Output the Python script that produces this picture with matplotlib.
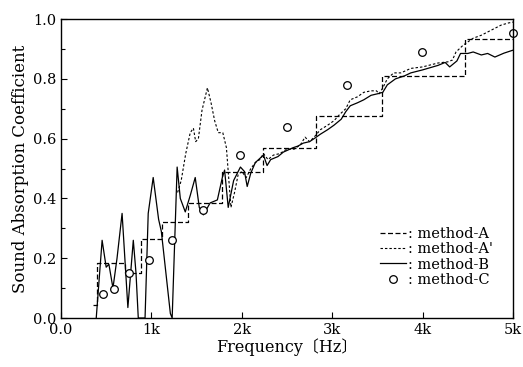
import matplotlib.pyplot as plt
import matplotlib.ticker as mticker

# method-A: band-wise step values (band edges in Hz)
a_edges = [350, 400, 710, 890, 1120, 1410, 1780, 2240, 2820, 3550, 4470, 5000]
a_vals = [0.045, 0.185, 0.15, 0.265, 0.32, 0.385, 0.49, 0.57, 0.675, 0.81, 0.935]

# method-A' (short dashes)
ap_freq = [1290, 1330, 1380, 1430, 1465, 1490, 1520, 1560, 1620, 1660, 1700, 1740,
           1790, 1830, 1860, 1880, 1920, 1960, 2000, 2050, 2100, 2150, 2200, 2240,
           2290, 2350, 2420, 2500, 2580, 2650, 2700, 2750, 2800, 2870, 2950, 3020,
           3080, 3150, 3200, 3280, 3350, 3430, 3490, 3520, 3560, 3610, 3680, 3760,
           3870, 4000, 4170, 4280, 4330, 4370, 4450, 4560, 4650, 4760, 4870, 4950, 5000]
ap_vals = [0.42, 0.46, 0.55, 0.62, 0.635, 0.59, 0.60, 0.695, 0.77, 0.72, 0.66, 0.62,
           0.62, 0.57, 0.45, 0.37, 0.42, 0.48, 0.49, 0.47, 0.50, 0.52, 0.53, 0.55,
           0.53, 0.545, 0.55, 0.565, 0.565, 0.58, 0.605, 0.59, 0.605, 0.63, 0.645, 0.66,
           0.68, 0.70, 0.73, 0.74, 0.755, 0.76, 0.76, 0.75, 0.77, 0.80, 0.82, 0.82,
           0.835, 0.84, 0.853, 0.857, 0.863, 0.89, 0.913, 0.936, 0.946, 0.963, 0.98, 0.987, 0.99]

# method-B (solid)
b_freq = [390, 455, 500, 530, 575, 620, 676, 740, 800, 830, 855, 930, 965, 1020,
          1080, 1110, 1210, 1230, 1285, 1320, 1375, 1430, 1485, 1530, 1575, 1650,
          1730, 1785, 1810, 1850, 1910, 1985, 2030, 2060, 2100, 2150, 2240, 2280,
          2320, 2400, 2460, 2570, 2620, 2680, 2750, 2800, 2870, 2950, 3020, 3100,
          3150, 3200, 3280, 3350, 3430, 3500, 3560, 3610, 3700, 3800, 3870, 4000,
          4170, 4250, 4300, 4380, 4420, 4500, 4560, 4650, 4720, 4800, 4900, 5000]
b_vals = [0.0, 0.26, 0.17, 0.18, 0.10, 0.20, 0.35, 0.035, 0.26, 0.15, 0.0, 0.0, 0.35, 0.47,
          0.33, 0.29, 0.015, 0.0, 0.505, 0.40, 0.355, 0.41, 0.47, 0.37, 0.345, 0.385,
          0.395, 0.47, 0.495, 0.37, 0.46, 0.505, 0.49, 0.44, 0.485, 0.52, 0.545, 0.51,
          0.53, 0.54, 0.555, 0.57, 0.575, 0.585, 0.59, 0.60, 0.615, 0.63, 0.645, 0.665,
          0.69, 0.71, 0.72, 0.73, 0.745, 0.75, 0.755, 0.78, 0.80, 0.81, 0.82, 0.83,
          0.845, 0.855, 0.84, 0.86, 0.885, 0.885, 0.89, 0.88, 0.885, 0.873, 0.886, 0.896]

# method-C (circles)
c_freq = [460, 590, 750, 975, 1230, 1575, 1985, 2505, 3160, 3990, 5000]
c_vals = [0.08, 0.097, 0.15, 0.195, 0.26, 0.36, 0.545, 0.64, 0.78, 0.89, 0.953]

x_ticks = [0, 1000, 2000, 3000, 4000, 5000]
x_labels = ["0.0", "1k", "2k", "3k", "4k", "5k"]

plt.rcParams['font.family'] = ['DejaVu Serif', 'Noto Sans CJK JP']
plt.rcParams['font.size'] = 10.5

fig = plt.figure(figsize=(5.23, 3.67), dpi=100)
ax = fig.add_axes([0.1166, 0.1335, 0.8642, 0.8145])

ax.plot(a_edges, a_vals + [a_vals[-1]], drawstyle='steps-post', color='black',
        lw=0.9, dashes=(4, 2), label=': method-A')
ax.plot(ap_freq, ap_vals, color='black', lw=0.8, dashes=(2.2, 1.8), label=": method-A'")
ax.plot(b_freq, b_vals, color='black', lw=0.9, label=': method-B')
ax.plot(c_freq, c_vals, 'o', mfc='white', mec='black', ms=5.5, mew=0.9,
        clip_on=False, label=': method-C')

ax.set_xlim(0, 5000)
ax.set_ylim(0, 1.0)
ax.set_xticks(x_ticks)
ax.set_xticklabels(x_labels)
ax.yaxis.set_major_locator(mticker.MultipleLocator(0.2))
ax.yaxis.set_minor_locator(mticker.MultipleLocator(0.1))
ax.yaxis.set_major_formatter(mticker.FormatStrFormatter('%.1f'))
ax.tick_params(direction='in', length=4, width=0.8, labelsize=10.5)
ax.tick_params(which='minor', direction='in', length=3, width=0.8)
for s in ax.spines.values():
    s.set_linewidth(1.0)

ax.set_xlabel('Frequency〔Hz〕', labelpad=1, fontsize=11.5)
ax.set_ylabel('Sound Absorption Coefficient', labelpad=3, fontsize=12)

ax.legend(loc='upper left', bbox_to_anchor=(0.69, 0.33), frameon=False,
          handlelength=1.8, handletextpad=0.1, labelspacing=0.1, borderpad=0,
          fontsize=10.5)

fig.savefig('out.png', dpi=100)
